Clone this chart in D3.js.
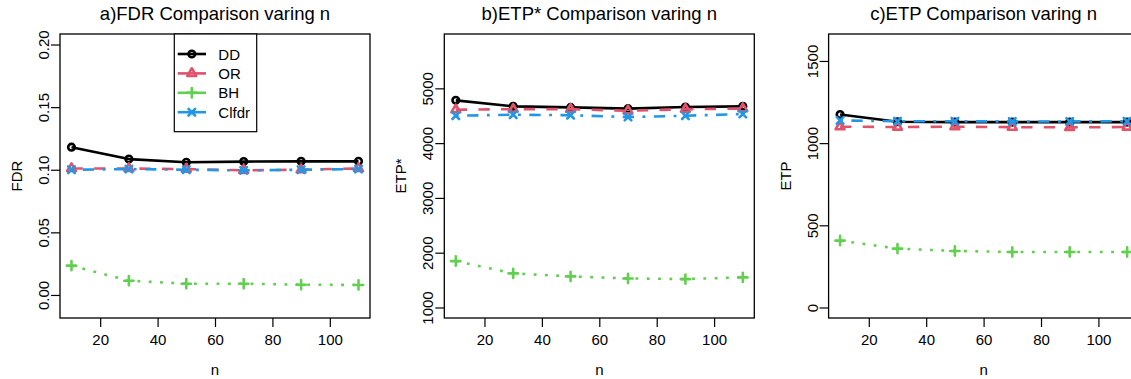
<!DOCTYPE html>
<html>
<head>
<meta charset="utf-8">
<script src="https://cdn.jsdelivr.net/npm/d3@7"></script>
<style>
  body { margin: 0; background: #fff; }
  svg text { font-family: "Liberation Sans", Arial, Helvetica, sans-serif; }
</style>
</head>
<body>
<svg id="chart" width="1131" height="379"></svg>
<script>
// sample sizes on the x axis
const nValues = [10, 30, 50, 70, 90, 110];
const methods = ["DD", "OR", "BH", "Clfdr"];

// a) FDR
const fdrDD    = [0.118, 0.1085, 0.106, 0.1065, 0.1067, 0.1067];
const fdrOR    = [0.101, 0.101, 0.1005, 0.0995, 0.100, 0.101];
const fdrBH    = [0.0234, 0.0114, 0.009, 0.009, 0.0082, 0.008];
const fdrClfdr = [0.100, 0.1005, 0.100, 0.0995, 0.100, 0.1005];

// b) ETP*
const etpsDD    = [4781, 4671, 4652, 4629, 4659, 4671];
const etpsOR    = [4610, 4620, 4620, 4590, 4620, 4630];
const etpsBH    = [1847, 1622, 1567, 1530, 1518, 1549];
const etpsClfdr = [4500, 4519, 4510, 4476, 4500, 4531];

// c) ETP
const etpDD    = [1174, 1130, 1128, 1128, 1128, 1128];
const etpOR    = [1100, 1098, 1100, 1097, 1096, 1098];
const etpBH    = [407, 358, 344, 338, 338, 338];
const etpClfdr = [1138, 1133, 1133, 1132, 1132, 1133];

const xTicks = [20, 40, 60, 80, 100];

// R palette + line types, lty units scaled to this resolution
const u = 2.83;
const styles = {
  DD:    { color: "#000000", dash: null,                                  pch: "circle" },
  OR:    { color: "#DF536B", dash: [4 * u, 4 * u].join(","),              pch: "triangle" },
  BH:    { color: "#61D04F", dash: [1 * u, 3 * u].join(","),              pch: "plus" },
  Clfdr: { color: "#2297E6", dash: [1 * u, 3 * u, 4 * u, 3 * u].join(","), pch: "cross" }
};

const panels = [
  { title: "a)FDR Comparison varing n", ylab: "FDR", ylim: [-0.01, 0.20],
    yTicks: [0, 0.05, 0.10, 0.15, 0.20], fmt: d3.format(".2f"),
    series: { DD: fdrDD, OR: fdrOR, BH: fdrBH, Clfdr: fdrClfdr }, legend: true },
  { title: "b)ETP* Comparison varing n", ylab: "ETP*", ylim: [1000, 5800],
    yTicks: [1000, 2000, 3000, 4000, 5000], fmt: d3.format("d"),
    series: { DD: etpsDD, OR: etpsOR, BH: etpsBH, Clfdr: etpsClfdr } },
  { title: "c)ETP Comparison varing n", ylab: "ETP", ylim: [0, 1600],
    yTicks: [0, 500, 1000, 1500], fmt: d3.format("d"),
    series: { DD: etpDD, OR: etpOR, BH: etpBH, Clfdr: etpClfdr } }
];

const svg = d3.select("svg#chart");

const panelW = 384.3,
      boxLeft = 60, boxW = 310,
      boxTop = 34, boxBottom = 318;
const lw = 2.6;
const fontSize = 15;

// R-like point symbols (pch 1..4)
const r0 = 3.3;
function symbolPath(pch) {
  if (pch === "plus") {
    const h = Math.SQRT2 * r0;
    return `M${-h},0H${h}M0,${-h}V${h}`;
  }
  if (pch === "cross") {
    return `M${-r0},${-r0}L${r0},${r0}M${-r0},${r0}L${r0},${-r0}`;
  }
  if (pch === "triangle") {
    const r = 1.555 * r0, xc = 1.347 * r0, yc = 0.778 * r0;
    return `M0,${-r}L${xc},${yc}L${-xc},${yc}Z`;
  }
  return null;
}

function drawMarker(g, pch, color, x, y) {
  if (pch === "circle") {
    g.append("circle").attr("cx", x).attr("cy", y).attr("r", r0)
      .attr("fill", "none").attr("stroke", color).attr("stroke-width", lw);
  } else {
    g.append("path").attr("d", symbolPath(pch))
      .attr("transform", `translate(${x},${y})`)
      .attr("fill", "none").attr("stroke", color).attr("stroke-width", lw)
      .attr("stroke-linecap", "round").attr("stroke-linejoin", "round");
  }
}

panels.forEach(function(p, i) {
  const ox = i * panelW;
  const left = ox + boxLeft, right = left + boxW;

  // R default axis extension of 4%
  const xr = d3.extent(nValues), xpad = 0.04 * (xr[1] - xr[0]);
  const ypad = 0.04 * (p.ylim[1] - p.ylim[0]);

  const x = d3.scaleLinear().domain([xr[0] - xpad, xr[1] + xpad]).range([left, right]);
  const y = d3.scaleLinear().domain([p.ylim[0] - ypad, p.ylim[1] + ypad]).range([boxBottom, boxTop]);

  const g = svg.append("g").attr("class", "panel");

  // title
  g.append("text")
    .attr("x", (left + right) / 2).attr("y", 20)
    .attr("text-anchor", "middle")
    .style("font-size", "18.5px")
    .text(p.title);

  // x axis
  const xa = g.append("g")
    .attr("transform", "translate(0," + boxBottom + ")")
    .call(d3.axisBottom(x).tickValues(xTicks).tickSize(9).tickPadding(7).tickSizeOuter(0));
  xa.select(".domain").remove();
  xa.selectAll("line").attr("stroke", "#000").attr("stroke-width", 1.2);
  xa.selectAll("text").style("font-size", fontSize + "px").attr("fill", "#000");

  // y axis, rotated labels like R's las=0
  const ya = g.append("g")
    .attr("transform", "translate(" + left + ",0)")
    .call(d3.axisLeft(y).tickValues(p.yTicks).tickFormat(p.fmt).tickSize(9).tickSizeOuter(0));
  ya.select(".domain").remove();
  ya.selectAll("line").attr("stroke", "#000").attr("stroke-width", 1.2);
  ya.selectAll("text")
    .attr("x", null).attr("dy", null)
    .attr("text-anchor", "middle")
    .attr("transform", "translate(-11,0) rotate(-90)")
    .style("font-size", fontSize + "px").attr("fill", "#000");

  // axis labels
  g.append("text")
    .attr("x", (left + right) / 2).attr("y", 375)
    .attr("text-anchor", "middle")
    .style("font-size", fontSize + "px")
    .text("n");
  g.append("text")
    .attr("transform", "translate(" + (left - 38) + "," + ((boxTop + boxBottom) / 2) + ") rotate(-90)")
    .attr("text-anchor", "middle")
    .style("font-size", fontSize + "px")
    .text(p.ylab);

  // series
  const line = d3.line().x(d => x(d[0])).y(d => y(d[1]));
  methods.forEach(function(m) {
    const s = styles[m];
    const pts = nValues.map((n, k) => [n, p.series[m][k]]);
    g.append("path")
      .attr("d", line(pts))
      .attr("fill", "none")
      .attr("stroke", s.color)
      .attr("stroke-width", lw)
      .attr("stroke-dasharray", s.dash)
      .attr("stroke-linejoin", "round");
    pts.forEach(d => drawMarker(g, s.pch, s.color, x(d[0]), y(d[1])));
  });

  // box
  g.append("rect")
    .attr("x", left).attr("y", boxTop)
    .attr("width", boxW).attr("height", boxBottom - boxTop)
    .attr("fill", "none").attr("stroke", "#000").attr("stroke-width", 1.3);

  // legend (panel a only)
  if (p.legend) {
    const lg = g.append("g").attr("class", "legend");
    lg.append("rect")
      .attr("x", ox + 174.3).attr("y", boxTop)
      .attr("width", 82.4).attr("height", 97.7)
      .attr("fill", "#fff").attr("stroke", "#000").attr("stroke-width", 1.2);
    methods.forEach(function(m, k) {
      const s = styles[m];
      const ly = 54 + k * 19.4;
      lg.append("line")
        .attr("x1", ox + 177.7).attr("x2", ox + 206)
        .attr("y1", ly).attr("y2", ly)
        .attr("stroke", s.color).attr("stroke-width", lw);
      drawMarker(lg, s.pch, s.color, ox + 191.8, ly);
      lg.append("text")
        .attr("x", ox + 218.3).attr("y", ly + 5.5)
        .style("font-size", fontSize + "px")
        .text(m);
    });
  }
});
</script>
</body>
</html>
